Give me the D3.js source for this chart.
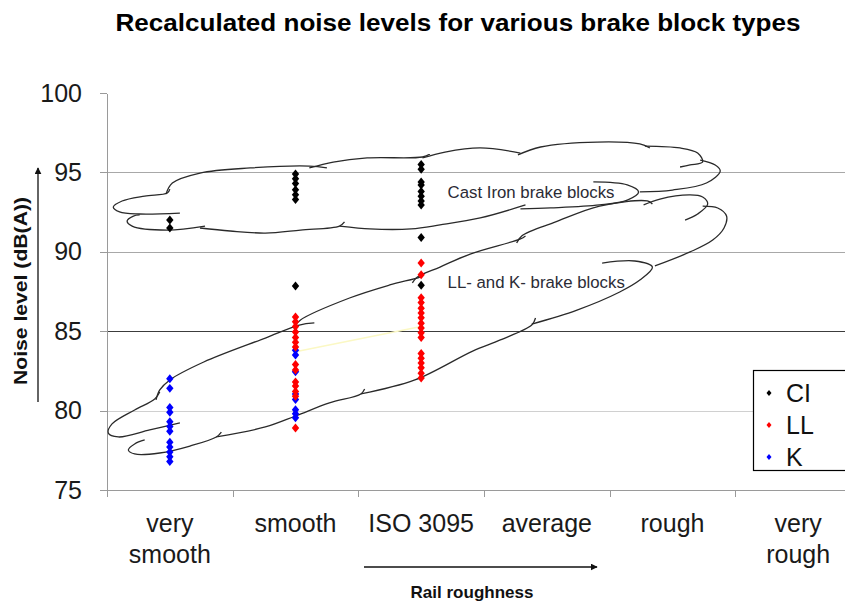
<!DOCTYPE html>
<html>
<head>
<meta charset="utf-8">
<style>
	body { margin: 0; background: #fff; font-family: "Liberation Sans", Arial, sans-serif; }
	.grid line { shape-rendering: crispEdges; }
	.axis path, .axis line { stroke: #9a9a9a; shape-rendering: crispEdges; }
	.axis text { font-size: 25px; fill: #1a1a1a; }
	.cat text { font-size: 25px; fill: #1a1a1a; text-anchor: middle; }
	.cloud { fill: none; stroke: #2a2a2a; stroke-width: 1.3; }
	.cloud-label { font-size: 16.8px; fill: #2b2b35; }
	.title { font-family: "Liberation Sans Narrow", "Liberation Sans", Arial, sans-serif; font-weight: bold; }
	.axtitle { font-weight: bold; fill: #111; }
</style>
<script src="https://d3js.org/d3.v7.min.js"></script>
</head>
<body>
<script>
// categories and ticks
var categories = ['very smooth', 'smooth', 'ISO 3095', 'average', 'rough', 'very rough'];
var categoryLines = [['very', 'smooth'], ['smooth'], ['ISO 3095'], ['average'], ['rough'], ['very', 'rough']];
var yTicks = [75, 80, 85, 90, 95, 100];

// measured values per category (dB(A))
var ciValues = [
	[92.0, 91.5],
	[94.9, 94.6, 94.3, 93.9, 93.6, 93.3, 87.85],
	[95.5, 95.2, 94.4, 94.2, 93.8, 93.5, 93.2, 92.95, 90.9, 87.9],
	[], [], []
];
var llValues = [
	[],
	[85.9, 85.6, 85.3, 84.95, 84.6, 84.3, 84.0, 82.9, 82.55, 81.8, 81.55, 81.2, 80.9, 78.9],
	[89.3, 88.55, 87.1, 86.8, 86.45, 86.15, 85.85, 85.5, 85.2, 84.9, 84.6, 83.6, 83.3, 83.0, 82.7, 82.35, 82.05],
	[], [], []
];
var kValues = [
	[82.0, 81.4, 80.2, 79.9, 79.3, 79.0, 78.7, 78.0, 77.7, 77.4, 77.1, 76.8],
	[83.8, 83.5, 82.45, 81.05, 80.7, 80.05, 79.8, 79.55],
	[], [], [], []
];
// faint connecting line seen in the original
var faintLink = [[1, 83.7], [2, 85.3]];

// annotation clouds, each lobe as [category offset, dB] points
var castIronCloud = [
	[[0.08,92.44],[-0.24,92.38],[-0.40,92.51],[-0.45,92.82],[-0.38,93.20],[-0.20,93.51],[-0.02,93.70],[0.00,93.95]],
	[[-0.03,93.64],[0.02,94.33],[0.24,94.96],[0.64,95.28],[1.11,95.40],[1.25,95.28]],
	[[1.11,95.28],[1.30,95.65],[1.57,95.91],[2.01,95.97],[2.07,96.16]],
	[[2.01,95.91],[2.19,96.28],[2.47,96.54],[2.79,96.22]],
	[[2.77,96.10],[2.95,96.60],[3.40,96.91],[3.74,96.79],[3.82,96.54]],
	[[3.78,96.66],[4.06,96.54],[4.20,96.22],[4.24,95.65],[4.14,95.47],[4.06,95.34]],
	[[4.22,95.78],[4.34,95.47],[4.38,95.09],[4.27,94.33],[4.00,93.89],[3.74,93.77]],
	[[3.37,94.40],[3.64,94.21],[3.73,93.77],[3.64,93.26],[3.42,92.95],[3.03,92.76],[2.79,92.70]],
	[[2.83,92.95],[2.47,92.13],[2.15,91.69],[1.92,91.44],[1.59,91.44],[1.35,91.62]],
	[[1.39,91.88],[1.35,91.62],[1.04,91.37],[0.76,91.18],[0.48,91.31],[0.24,91.50]],
	[[0.28,91.62],[-0.02,91.37],[-0.30,91.62],[-0.34,91.94],[-0.29,92.25],[-0.24,92.32]]
];
var llkCloud = [
	[[0.08,79.22],[-0.16,78.78],[-0.41,78.34],[-0.49,78.59],[-0.46,79.16],[-0.28,80.04],[-0.12,80.73],[-0.08,81.17]],
	[[-0.11,80.67],[-0.08,81.30],[0.00,81.93],[0.27,83.06],[0.76,84.57],[1.03,85.39],[1.15,85.52]],
	[[0.98,85.20],[1.04,85.71],[1.43,87.09],[1.75,87.91],[1.99,88.41],[2.02,88.54]],
	[[1.93,88.04],[1.97,88.41],[2.15,89.04],[2.39,89.86],[2.79,90.81],[2.83,91.00]],
	[[2.76,90.55],[2.80,91.00],[3.07,91.88],[3.42,92.88],[3.80,93.20],[3.84,93.01]],
	[[3.77,92.95],[3.90,93.32],[4.14,93.58],[4.24,93.45],[4.28,93.01],[4.20,92.38],[4.10,92.00]],
	[[4.24,92.88],[4.36,92.76],[4.43,92.25],[4.41,91.50],[4.32,90.74],[4.14,89.99],[3.86,89.11]],
	[[3.44,89.29],[3.70,89.42],[3.84,89.04],[3.74,88.22],[3.58,87.47],[3.24,86.33],[2.88,85.45]],
	[[2.91,85.83],[2.88,85.39],[2.63,84.45],[2.41,83.75],[1.95,81.93],[1.52,81.05]],
	[[1.55,81.36],[1.52,81.05],[1.27,80.48],[1.00,79.66],[0.76,78.97],[0.37,78.34]],
	[[0.41,78.65],[0.37,78.34],[0.16,77.77],[-0.08,77.33],[-0.28,77.27],[-0.33,77.52],[-0.28,77.90],[-0.20,78.15]]
];
var cloudLabels = [
	{text: 'Cast Iron brake blocks', u: 2.21, v: 93.77},
	{text: 'LL- and K- brake blocks', u: 2.21, v: 88.1}
];
var seriesNames = ['CI', 'LL', 'K'];

var width = 845, height = 606;
var colors = {CI: '#000000', LL: '#ff0000', K: '#0000ff'};

var svg = d3.select('body').append('svg')
	.attr('width', width)
	.attr('height', height);

var x = d3.scaleBand()
	.domain(categories)
	.range([107, 861]);

var y = d3.scaleLinear()
	.domain([75, 100])
	.range([490, 93]);

// x position from a fractional category offset
function ux(u) {
	return x(categories[0]) + x.bandwidth() / 2 + u * x.step();
}

// slightly fuller diamond than d3.symbolDiamond
var fatDiamond = {
	draw: function(ctx, size) {
		var h = Math.sqrt(size) * 0.6, w = h * 0.82;
		ctx.moveTo(0, -h);
		ctx.lineTo(w, 0);
		ctx.lineTo(0, h);
		ctx.lineTo(-w, 0);
		ctx.closePath();
	}
};

svg.append('defs').append('marker')
	.attr('id', 'arrow')
	.attr('viewBox', '0 0 10 10')
	.attr('refX', 9).attr('refY', 5)
	.attr('markerWidth', 7).attr('markerHeight', 7)
	.attr('markerUnits', 'userSpaceOnUse')
	.attr('orient', 'auto')
  .append('path')
	.attr('d', 'M0,0L10,5L0,10z')
	.attr('fill', '#111');

// gridlines
svg.append('g')
	.attr('class', 'grid')
	.selectAll('line')
	.data(yTicks.filter(function(d) { return d > 75 && d < 100; }))
	.enter().append('line')
	.attr('x1', x.range()[0])
	.attr('x2', x.range()[1])
	.attr('y1', function(d) { return Math.round(y(d)) + 0.5; })
	.attr('y2', function(d) { return Math.round(y(d)) + 0.5; })
	.attr('stroke', function(d) { return d === 85 ? '#3c3c3c' : d === 80 ? '#d0d0d0' : '#a8a8a8'; })
	.attr('stroke-width', 1.5);

// y axis
var axisY = d3.axisLeft(y)
	.tickValues(yTicks)
	.tickSize(7)
	.tickSizeOuter(0)
	.tickPadding(18);

svg.append('g')
	.attr('class', 'axis')
	.attr('transform', 'translate(' + x.range()[0] + ',0)')
	.call(axisY);

// x axis line and boundary ticks
var xAxis = svg.append('g').attr('class', 'axis');
xAxis.append('line')
	.attr('x1', x.range()[0]).attr('x2', x.range()[1])
	.attr('y1', y(75) + 0.5).attr('y2', y(75) + 0.5);
xAxis.selectAll('line.tick')
	.data(categories.map(function(c) { return x(c); }).concat([x.range()[1]]))
	.enter().append('line')
	.attr('class', 'tick')
	.attr('x1', function(d) { return Math.round(d) + 0.5; })
	.attr('x2', function(d) { return Math.round(d) + 0.5; })
	.attr('y1', y(75)).attr('y2', y(75) + 7);

var cat = svg.append('g').attr('class', 'cat')
	.selectAll('text')
	.data(categories)
	.enter().append('text')
	.attr('transform', function(d) { return 'translate(' + (x(d) + x.bandwidth() / 2) + ',532)'; });
cat.selectAll('tspan')
	.data(function(d, i) { return categoryLines[i]; })
	.enter().append('tspan')
	.attr('x', 0)
	.attr('y', function(d, i) { return i * 31; })
	.text(function(d) { return d; });

// clouds
var lobe = d3.line()
	.x(function(d) { return ux(d[0]); })
	.y(function(d) { return y(d[1]); })
	.curve(d3.curveCatmullRom.alpha(0.5));

svg.append('g').selectAll('path')
	.data(castIronCloud.concat(llkCloud))
	.enter().append('path')
	.attr('class', 'cloud')
	.attr('d', lobe);

svg.append('g').selectAll('text')
	.data(cloudLabels)
	.enter().append('text')
	.attr('class', 'cloud-label')
	.attr('x', function(d) { return ux(d.u); })
	.attr('y', function(d) { return y(d.v); })
	.attr('dy', '0.35em')
	.text(function(d) { return d.text; });

// faint link
svg.append('path')
	.datum(faintLink)
	.attr('d', lobe.curve(d3.curveLinear))
	.attr('fill', 'none')
	.attr('stroke', '#fbf8c4')
	.attr('stroke-width', 1.5);

// points
function flatten(name, byCat) {
	var out = [];
	byCat.forEach(function(vals, i) {
		vals.forEach(function(v) { out.push({s: name, c: categories[i], v: v}); });
	});
	return out;
}
var points = flatten('K', kValues)
	.concat(flatten('LL', llValues))
	.concat(flatten('CI', ciValues));

var diamond = d3.symbol().type(fatDiamond).size(56);

svg.append('g').selectAll('path')
	.data(points)
	.enter().append('path')
	.attr('d', diamond)
	.attr('fill', function(d) { return colors[d.s]; })
	.attr('transform', function(d) {
		return 'translate(' + (x(d.c) + x.bandwidth() / 2) + ',' + y(d.v) + ')';
	});

// legend
var legend = svg.append('g').attr('transform', 'translate(753,370)');
legend.append('rect')
	.attr('x', 0.5).attr('y', 0.5)
	.attr('width', 110).attr('height', 100)
	.attr('fill', '#fff')
	.attr('stroke', '#000')
	.attr('stroke-width', 1.2);
var item = legend.selectAll('g.item')
	.data(seriesNames)
	.enter().append('g')
	.attr('class', 'item')
	.attr('transform', function(d, i) { return 'translate(0,' + (23 + i * 32) + ')'; });
item.append('path')
	.attr('d', d3.symbol().type(fatDiamond).size(26))
	.attr('transform', 'translate(16,0)')
	.attr('fill', function(d) { return colors[d]; });
item.append('text')
	.attr('x', 33)
	.attr('dy', '0.35em')
	.attr('font-size', 25)
	.attr('fill', '#111')
	.text(function(d) { return d; });

// titles and arrows
svg.append('text')
	.attr('class', 'title')
	.attr('x', 458).attr('y', 31)
	.attr('text-anchor', 'middle')
	.attr('font-size', 23)
	.attr('textLength', 685)
	.attr('lengthAdjust', 'spacingAndGlyphs')
	.text('Recalculated noise levels for various brake block types');

svg.append('text')
	.attr('class', 'axtitle')
	.attr('transform', 'translate(27,291) rotate(-90)')
	.attr('text-anchor', 'middle')
	.attr('font-size', 18)
	.attr('textLength', 188)
	.attr('lengthAdjust', 'spacingAndGlyphs')
	.text('Noise level (dB(A))');

svg.append('line')
	.attr('x1', 38).attr('x2', 38)
	.attr('y1', 402).attr('y2', 168)
	.attr('stroke', '#111').attr('stroke-width', 1.3)
	.attr('marker-end', 'url(#arrow)');

svg.append('line')
	.attr('x1', 364).attr('x2', 597)
	.attr('y1', 567).attr('y2', 567)
	.attr('stroke', '#111').attr('stroke-width', 1.3)
	.attr('marker-end', 'url(#arrow)');

svg.append('text')
	.attr('class', 'axtitle')
	.attr('x', 472).attr('y', 598)
	.attr('text-anchor', 'middle')
	.attr('font-size', 17)
	.text('Rail roughness');
</script>
</body>
</html>
